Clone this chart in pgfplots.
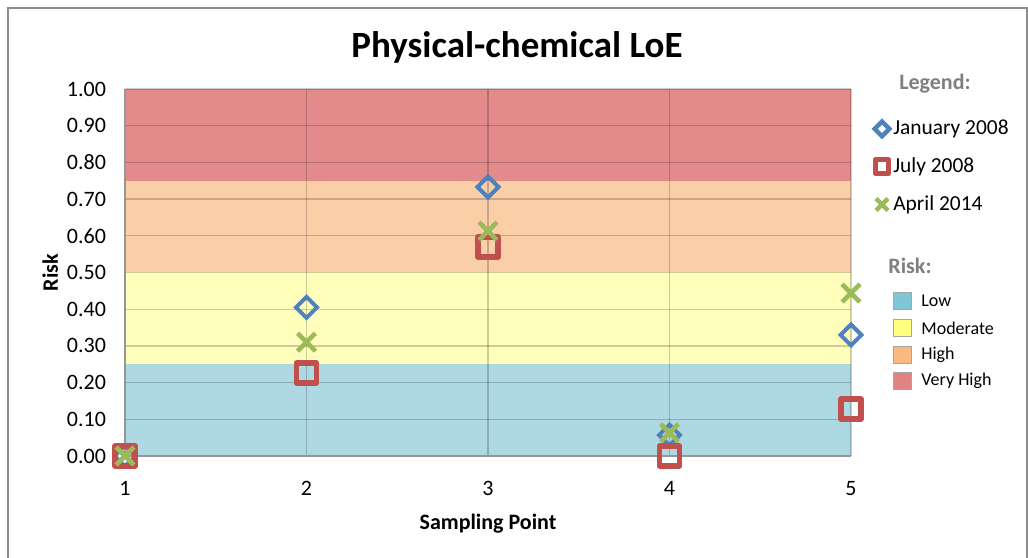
\documentclass[border=0pt]{standalone}
\usepackage{pgfplots}
\pgfplotsset{compat=1.18}
\usepackage{fontspec}
\setmainfont{Carlito}
\definecolor{lowc}{RGB}{174,216,226}
\definecolor{modc}{RGB}{255,255,187}
\definecolor{highc}{RGB}{250,207,168}
\definecolor{vhighc}{RGB}{227,139,139}
\definecolor{lowb}{RGB}{127,198,214}
\definecolor{modb}{RGB}{255,255,128}
\definecolor{highb}{RGB}{251,184,128}
\definecolor{vhighb}{RGB}{227,130,130}
\definecolor{janc}{RGB}{79,129,189}
\definecolor{julc}{RGB}{192,80,77}
\definecolor{aprc}{RGB}{155,187,89}
\definecolor{framec}{RGB}{140,140,140}
\definecolor{axisc}{RGB}{150,150,150}
\definecolor{headc}{RGB}{127,127,127}
\pgfplotsset{
  janleg/.style={legend image code/.code={\draw[##1, mark size=2.6pt, mark options={rotate=45, draw=janc, line width=2.2pt, fill=none}] plot coordinates {(4pt,0pt)};}},
  julleg/.style={legend image code/.code={\draw[##1, mark size=3.4pt, mark options={draw=julc, line width=2.6pt, fill=none, line join=round}] plot coordinates {(4pt,0pt)};}},
  aprleg/.style={legend image code/.code={\draw[##1, mark size=4.2pt, mark options={draw=aprc, line width=2.2pt}] plot coordinates {(4pt,0pt)};}},
}
\begin{document}
\begin{tikzpicture}
\useasboundingbox (-62.5pt,-50.5pt) rectangle (451.5pt,228pt);
\draw[line width=1pt, framec] (-58.5pt,-52pt) -- (-58.5pt,224pt) -- (450.75pt,224pt) -- (450.75pt,-52pt);
\begin{axis}[
  at={(0,0)}, anchor=south west,
  scale only axis, width=363pt, height=183.5pt,
  xmin=1, xmax=5, ymin=0, ymax=1,
  xtick={1,2,3,4,5},
  ytick={0,0.1,0.2,0.3,0.4,0.5,0.6,0.7,0.8,0.9,1},
  axis on top,
  grid=major, major grid style={line width=0.6pt, black, opacity=0.2},
  axis x line*=bottom, axis y line*=left,
  axis line style={-, draw=axisc, line width=0.8pt},
  major tick length=0pt,
  tick label style={font=\fontsize{11}{13}\selectfont},
  /pgf/number format/assume math mode=true,
  yticklabel style={xshift=-6pt, /pgf/number format/.cd, fixed, fixed zerofill, precision=2},
  xticklabel style={yshift=-9pt},
  xlabel={Sampling Point}, ylabel={Risk},
  label style={font=\bfseries\fontsize{11}{13}\selectfont},
  xlabel style={at={(axis description cs:0.5,-0.185)}, anchor=center},
  ylabel style={at={(axis description cs:-0.103,0.5)}, anchor=center},
  clip=false,
  legend cell align=left,
  legend style={at={(1.032,0.788)}, anchor=west, draw=none, fill=none,
    font=\fontsize{10.7}{12}\selectfont, inner sep=0pt, row sep=10pt,
    nodes={inner xsep=2pt, inner ysep=0pt}},
]
\addplot[fill=lowc, draw=none, forget plot] coordinates {(1,0) (5,0) (5,0.25) (1,0.25)};
\addplot[fill=modc, draw=none, forget plot] coordinates {(1,0.25) (5,0.25) (5,0.5) (1,0.5)};
\addplot[fill=highc, draw=none, forget plot] coordinates {(1,0.5) (5,0.5) (5,0.75) (1,0.75)};
\addplot[fill=vhighc, draw=none, forget plot] coordinates {(1,0.75) (5,0.75) (5,1) (1,1)};

\addplot[only marks, mark=square, mark size=3.7pt, mark options={rotate=45, draw=janc, line width=2pt, fill=none}, janleg]
  coordinates {(1,0) (2,0.405) (3,0.733) (4,0.057) (5,0.33)};
\addlegendentry{January 2008}
\addplot[only marks, mark=square, mark size=5pt, mark options={draw=julc, line width=2.8pt, fill=none, line join=round}, julleg]
  coordinates {(1,0) (2,0.226) (3,0.57) (4,0) (5,0.128)};
\addlegendentry{July 2008}
\addplot[only marks, mark=x, mark size=6.3pt, mark options={draw=aprc, line width=2.3pt}, aprleg]
  coordinates {(1,0) (2,0.31) (3,0.613) (4,0.063) (5,0.444)};
\addlegendentry{April 2014}
\end{axis}
\node[font=\bfseries\fontsize{18.5}{22}\selectfont] at (196pt,204.5pt) {Physical-chemical LoE};
\node[font=\bfseries\fontsize{11}{13}\selectfont, text=headc] at (405pt,186pt) {Legend:};
\node[font=\bfseries\fontsize{11}{13}\selectfont, text=headc] at (392.5pt,95pt) {Risk:};
\foreach \c/\t/\y in {lowb/Low/77.5, modb/Moderate/64, highb/High/50.5, vhighb/Very High/37.5}{
  \filldraw[fill=\c, draw=gray!70, line width=0.5pt] (384pt,\y pt-4.2pt) rectangle (393pt,\y pt+4.2pt);
  \node[anchor=west, font=\fontsize{9}{11}\selectfont, inner sep=0pt] at (398pt,\y pt) {\t};
}
\end{tikzpicture}
\end{document}
